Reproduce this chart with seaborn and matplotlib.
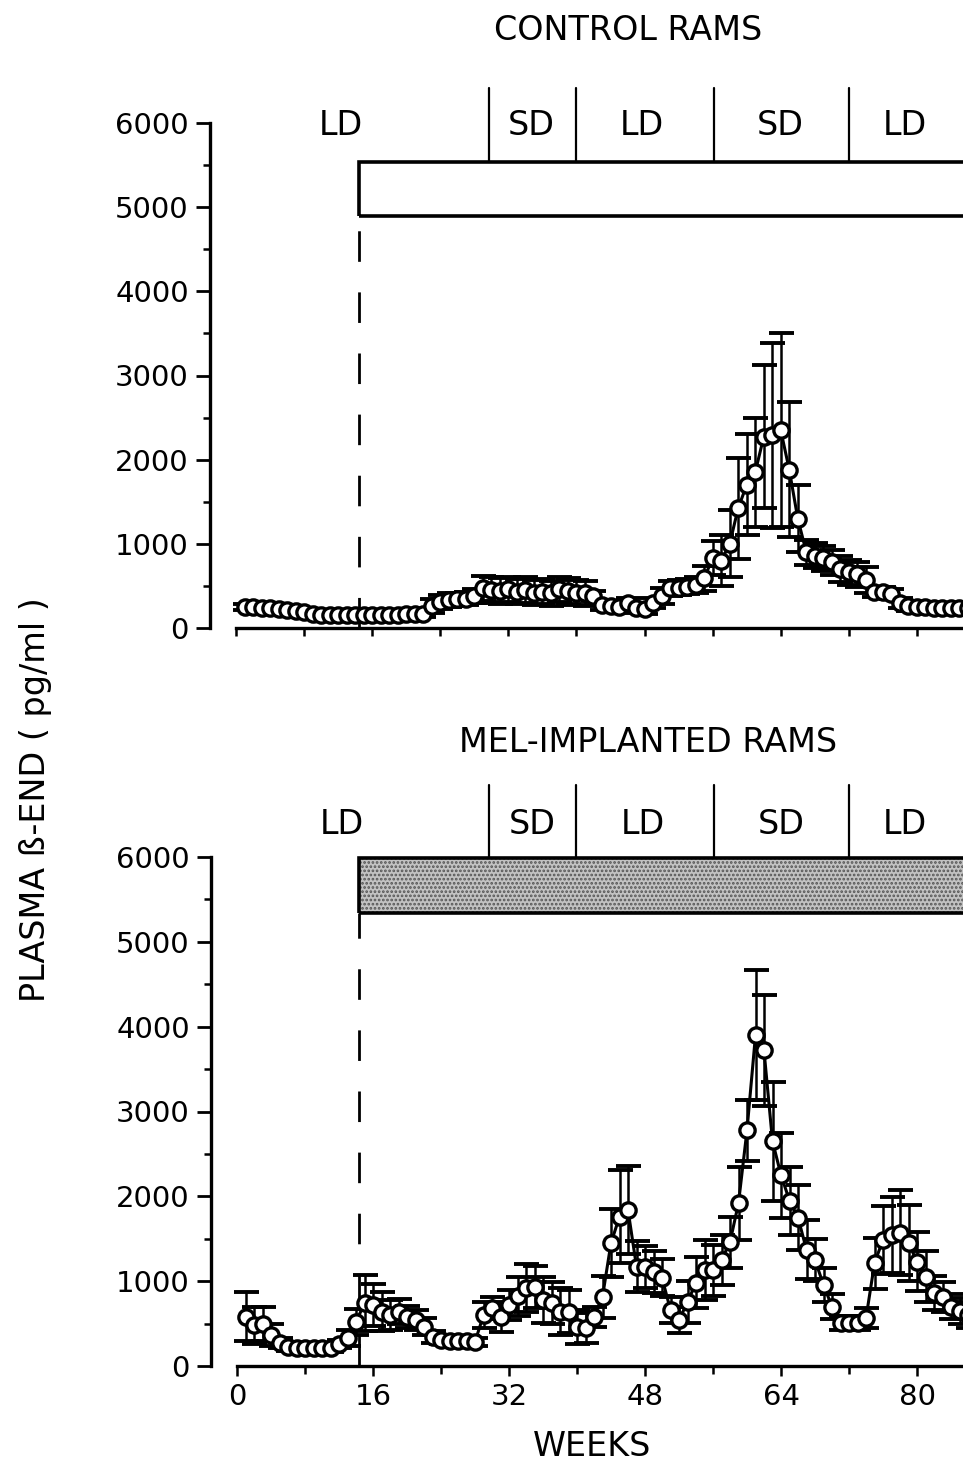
import matplotlib
matplotlib.use("Agg")
import matplotlib.pyplot as plt
from matplotlib.patches import Rectangle
from matplotlib.ticker import MultipleLocator, NullFormatter
import pandas as pd
import seaborn as sns

# ---- data: weekly plasma beta-endorphin (mean and SEM, pg/ml) ----
weeks = list(range(1, 87))

control_mean = [
    250, 245, 240, 235, 225, 215, 205, 190, 170, 160,
    155, 155, 150, 155, 155, 160, 160, 160, 160, 165,
    165, 170, 260, 310, 330, 340, 350, 380, 470, 450,
    440, 460, 430, 450, 420, 430, 410, 460, 440, 420,
    410, 380, 270, 260, 250, 300, 235, 230, 300, 380,
    470, 480, 490, 510, 590, 830, 800, 1000, 1425, 1700,
    1850, 2270, 2290, 2350, 1880, 1300, 900, 860, 830, 780,
    700, 660, 640, 570, 430, 430, 400, 300, 260, 250,
    250, 240, 240, 240, 240, 240,
]
control_sem = [
    40, 40, 40, 40, 40, 40, 40, 40, 40, 40,
    40, 40, 40, 40, 40, 40, 40, 40, 40, 40,
    40, 40, 80, 80, 80, 80, 80, 80, 150, 150,
    150, 150, 150, 150, 150, 150, 150, 150, 150, 150,
    150, 60, 60, 60, 60, 60, 60, 60, 60, 90,
    90, 90, 90, 90, 150, 200, 300, 400, 600, 600,
    650, 850, 1100, 1150, 800, 400, 150, 150, 150, 150,
    150, 150, 150, 150, 60, 60, 60, 60, 60, 60,
    60, 60, 60, 60, 60, 60,
]

mel_mean = [
    580, 480, 500, 365, 270, 220, 210, 210, 210, 210,
    210, 260, 330, 520, 740, 720, 640, 600, 640, 580,
    545, 460, 340, 305, 300, 300, 300, 285, 600, 685,
    580, 720, 820, 920, 930, 780, 740, 640, 640, 460,
    450, 580, 815, 1450, 1760, 1840, 1170, 1170, 1110, 1040,
    660, 540, 755, 980, 1130, 1130, 1250, 1460, 1920, 2780,
    3900, 3720, 2650, 2250, 1950, 1750, 1370, 1250, 955, 700,
    505, 505, 505, 565, 1210, 1490, 1545, 1570, 1450, 1230,
    1050, 860, 815, 700, 650, 600,
]
mel_sem = [
    290, 220, 200, 130, 60, 40, 40, 40, 40, 40,
    40, 50, 90, 150, 330, 250, 230, 180, 150, 130,
    120, 100, 70, 50, 50, 50, 50, 50, 150, 130,
    180, 180, 230, 280, 250, 270, 250, 280, 250, 200,
    180, 120, 250, 400, 550, 520, 300, 250, 250, 220,
    150, 150, 250, 300, 350, 300, 300, 300, 430, 360,
    770, 650, 700, 500, 400, 380, 350, 250, 200, 150,
    80, 80, 80, 120, 300, 400, 450, 500, 450, 350,
    300, 200, 180, 150, 150, 150,
]

panel_titles = ["CONTROL RAMS", "MEL-IMPLANTED RAMS"]
photoperiod_labels = ["LD", "SD", "LD", "SD", "LD"]
photoperiod_label_weeks = [12.3, 34.7, 47.7, 64.0, 78.6]
photoperiod_switch_weeks = [29.7, 39.9, 56.1, 72.0]
treatment_start_week = 14.4

# ---- style ----
sns.set_theme(style="ticks")
plt.rcParams["font.family"] = ["DejaVu Sans"]
plt.rcParams["text.color"] = "black"
plt.rcParams["xtick.color"] = "black"
plt.rcParams["ytick.color"] = "black"
plt.rcParams["lines.scale_dashes"] = False
plt.rcParams["hatch.linewidth"] = 1.3

W, H = 963, 1470
fig = plt.figure(figsize=(W / 100, H / 100), dpi=100)


def fx(px):
    return px / W


def fy(py):
    return 1 - py / H


x_right = (W - 237) / 8.5
TXT = 24

# [left, bottom, width, height] from pixel extents of each plot area
panels = [
    dict(rect=[fx(236), fy(628), 1 - fx(236), fy(123) - fy(628)],
         mean=control_mean, sem=control_sem, title_xy=(628, 30),
         bar=(4890, 5540), bar_fill=False, div=(5540, 6420), lab_y=5975),
    dict(rect=[fx(237), fy(1366), 1 - fx(237), fy(857) - fy(1366)],
         mean=mel_mean, sem=mel_sem, title_xy=(648, 742),
         bar=(5340, 5990), bar_fill=True, div=(5990, 6850), lab_y=6380),
]

for i, p in enumerate(panels):
    ax = fig.add_axes(p["rect"])
    df = pd.DataFrame({"week": weeks, "mean": p["mean"], "sem": p["sem"]})

    ax.errorbar(df["week"], df["mean"], yerr=df["sem"], fmt="none",
                ecolor="black", elinewidth=1.8, capsize=9, capthick=2.8,
                zorder=2, clip_on=False)
    sns.lineplot(data=df, x="week", y="mean", ax=ax, color="black",
                 linewidth=2.2, marker="o", markersize=11,
                 markerfacecolor="white", markeredgecolor="black",
                 markeredgewidth=2.4, zorder=3, clip_on=False)

    ax.set_xlim(0, x_right)
    ax.set_ylim(0, 6000)
    ax.set_xlabel("")
    ax.set_ylabel("")

    sns.despine(ax=ax)
    ax.spines["left"].set_position(("outward", 19))
    ax.spines["left"].set_bounds(0, 6000)
    for s in ("left", "bottom"):
        ax.spines[s].set_linewidth(2.4)
        ax.spines[s].set_color("black")

    ax.yaxis.set_major_locator(MultipleLocator(1000))
    ax.yaxis.set_minor_locator(MultipleLocator(500))
    ax.tick_params(axis="y", which="major", direction="out", length=10,
                   width=2.0, labelsize=21, pad=5, colors="black")
    ax.tick_params(axis="y", which="minor", direction="out", length=5,
                   width=1.8, colors="black")

    if i == 0:
        ax.xaxis.set_major_locator(MultipleLocator(8))
        ax.xaxis.set_major_formatter(NullFormatter())
        ax.tick_params(axis="x", which="major", direction="out", length=6,
                       width=1.8, colors="black")
    else:
        ax.xaxis.set_major_locator(MultipleLocator(16))
        ax.xaxis.set_minor_locator(MultipleLocator(8))
        ax.tick_params(axis="x", which="major", direction="out", length=7,
                       width=1.8, labelsize=21, pad=5, colors="black")
        ax.tick_params(axis="x", which="minor", direction="out", length=6,
                       width=1.8, colors="black")

    # treatment bar
    b0, b1 = p["bar"]
    if p["bar_fill"]:
        ax.add_patch(Rectangle((treatment_start_week, b0), 200, b1 - b0,
                               facecolor="#c2c2c2", edgecolor="#555555",
                               hatch="....", linewidth=0, clip_on=False,
                               zorder=1))
    ax.add_patch(Rectangle((treatment_start_week, b0), 200, b1 - b0,
                           facecolor="none", edgecolor="black",
                           linewidth=2.6, clip_on=False, zorder=1.5))

    # photoperiod switches
    d0, d1 = p["div"]
    for wk in photoperiod_switch_weeks:
        ax.plot([wk, wk], [d0, d1], color="black", linewidth=1.6,
                clip_on=False)
    for lab, wk in zip(photoperiod_labels, photoperiod_label_weeks):
        ax.text(wk, p["lab_y"], lab, ha="center", va="center", fontsize=TXT,
                color="black", clip_on=False)

    # start of treatment
    ax.plot([treatment_start_week, treatment_start_week], [0, b0],
            color="black", linewidth=2.0, linestyle=(0, (22, 22)),
            clip_on=False, zorder=1)

    tx, ty = p["title_xy"]
    fig.text(fx(tx), fy(ty), panel_titles[i], ha="center", va="center",
             fontsize=TXT, color="black")

fig.text(fx(35), fy(800), "PLASMA ß-END ( pg/ml )", rotation=90,
         ha="center", va="center", fontsize=TXT, color="black")
fig.text(fx(592), fy(1447), "WEEKS", ha="center", va="center", fontsize=TXT,
         color="black")

fig.savefig("out.png", dpi=100, facecolor="white")
